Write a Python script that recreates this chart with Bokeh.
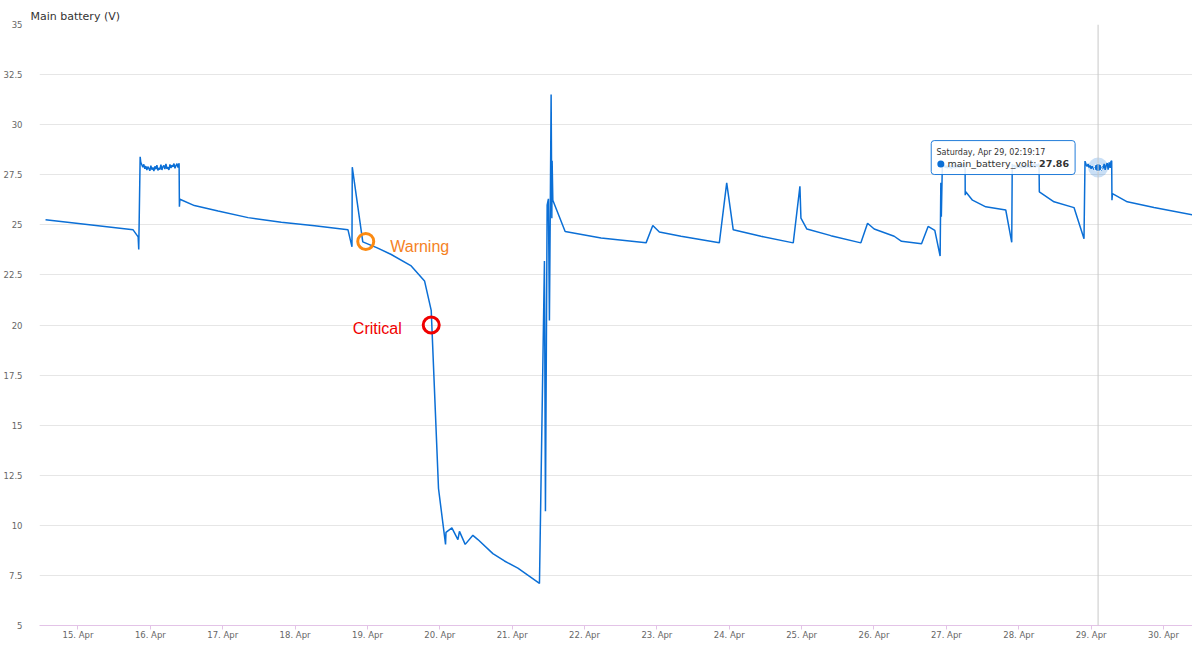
import pandas as pd
from bokeh.plotting import figure
from bokeh.models import (Range1d, FixedTicker, DaysTicker, DatetimeTickFormatter,
                          Label, Span, BoxAnnotation)
from bokeh.embed import file_html
from bokeh.resources import INLINE

# ---------------- data ----------------
series_name = "main_battery_volt"
chart_title = "Main battery (V)"

times = [
    # slow discharge, then first charge
    "2023-04-14 13:14", "2023-04-15 18:17", "2023-04-15 19:57", "2023-04-15 20:09",
    # charging plateau 1
    "2023-04-15 20:37", "2023-04-15 20:50", "2023-04-15 21:10", "2023-04-15 21:30",
    "2023-04-15 21:50", "2023-04-15 22:10", "2023-04-15 22:30", "2023-04-15 22:50",
    "2023-04-15 23:10", "2023-04-15 23:30", "2023-04-15 23:50", "2023-04-16 00:10",
    "2023-04-16 00:30", "2023-04-16 00:50", "2023-04-16 01:10", "2023-04-16 01:30",
    "2023-04-16 01:50", "2023-04-16 02:10", "2023-04-16 02:30", "2023-04-16 02:50",
    "2023-04-16 03:10", "2023-04-16 03:30", "2023-04-16 03:50", "2023-04-16 04:10",
    "2023-04-16 04:30", "2023-04-16 04:50", "2023-04-16 05:10", "2023-04-16 05:30",
    "2023-04-16 05:50", "2023-04-16 06:10", "2023-04-16 06:30", "2023-04-16 06:50",
    "2023-04-16 07:10", "2023-04-16 07:30", "2023-04-16 07:50", "2023-04-16 08:10",
    "2023-04-16 08:30", "2023-04-16 08:50", "2023-04-16 09:10", "2023-04-16 09:32",
    # discharge
    "2023-04-16 09:38", "2023-04-16 09:48", "2023-04-16 14:36", "2023-04-16 22:28",
    "2023-04-17 08:24", "2023-04-17 19:26", "2023-04-18 06:29", "2023-04-18 17:33",
    "2023-04-18 18:52", "2023-04-18 18:58", "2023-04-18 22:27", "2023-04-19 03:15",
    "2023-04-19 07:54", "2023-04-19 14:31", "2023-04-19 18:56", "2023-04-19 21:09",
    "2023-04-19 23:34", "2023-04-20 01:54", "2023-04-20 02:03", "2023-04-20 04:00",
    "2023-04-20 06:00", "2023-04-20 06:31", "2023-04-20 08:25", "2023-04-20 10:58",
    "2023-04-20 12:38", "2023-04-20 17:36", "2023-04-20 21:26", "2023-04-21 01:53",
    "2023-04-21 09:03",
    # recovery spikes
    "2023-04-21 10:42", "2023-04-21 11:02", "2023-04-21 11:36", "2023-04-21 12:01",
    "2023-04-21 12:21", "2023-04-21 12:39", "2023-04-21 12:55", "2023-04-21 13:09",
    "2023-04-21 13:15", "2023-04-21 13:29",
    # daily cycles
    "2023-04-21 17:34", "2023-04-22 05:29", "2023-04-22 20:24", "2023-04-22 22:38",
    "2023-04-23 00:49", "2023-04-23 08:00", "2023-04-23 20:42", "2023-04-23 23:09",
    "2023-04-24 01:19", "2023-04-24 10:30", "2023-04-24 21:13", "2023-04-24 23:26",
    "2023-04-24 23:46", "2023-04-25 01:45", "2023-04-25 09:42", "2023-04-25 19:39",
    "2023-04-25 21:52", "2023-04-26 00:04", "2023-04-26 06:42", "2023-04-26 09:08",
    "2023-04-26 15:46", "2023-04-26 17:57", "2023-04-26 20:10", "2023-04-26 21:56",
    "2023-04-26 22:10", "2023-04-26 22:20",
    # charging plateau 2
    "2023-04-26 22:40", "2023-04-26 23:00", "2023-04-26 23:20", "2023-04-26 23:40",
    "2023-04-27 00:00", "2023-04-27 00:20", "2023-04-27 00:40", "2023-04-27 01:00",
    "2023-04-27 01:20", "2023-04-27 01:40", "2023-04-27 02:00", "2023-04-27 02:20",
    "2023-04-27 02:40", "2023-04-27 03:00", "2023-04-27 03:20", "2023-04-27 03:40",
    "2023-04-27 04:00", "2023-04-27 04:20", "2023-04-27 04:40", "2023-04-27 05:00",
    "2023-04-27 05:20", "2023-04-27 05:40", "2023-04-27 06:00", "2023-04-27 06:13",
    # discharge
    "2023-04-27 06:15", "2023-04-27 06:25", "2023-04-27 08:40", "2023-04-27 13:04",
    "2023-04-27 19:42", "2023-04-27 21:41",
    # charging plateau 3
    "2023-04-27 21:51", "2023-04-27 22:10", "2023-04-27 22:30", "2023-04-27 22:50",
    "2023-04-27 23:10", "2023-04-27 23:30", "2023-04-27 23:50", "2023-04-28 00:10",
    "2023-04-28 00:30", "2023-04-28 00:50", "2023-04-28 01:10", "2023-04-28 01:30",
    "2023-04-28 01:50", "2023-04-28 02:10", "2023-04-28 02:30", "2023-04-28 02:50",
    "2023-04-28 03:10", "2023-04-28 03:30", "2023-04-28 03:50", "2023-04-28 04:10",
    "2023-04-28 04:30", "2023-04-28 04:50", "2023-04-28 05:10", "2023-04-28 05:30",
    "2023-04-28 05:50", "2023-04-28 06:10", "2023-04-28 06:30", "2023-04-28 06:44",
    # discharge
    "2023-04-28 06:50", "2023-04-28 11:42", "2023-04-28 18:20", "2023-04-28 21:39",
    # charging plateau 4
    "2023-04-28 21:59", "2023-04-28 22:20", "2023-04-28 22:40", "2023-04-28 23:00",
    "2023-04-28 23:20", "2023-04-28 23:40", "2023-04-29 00:00", "2023-04-29 00:20",
    "2023-04-29 00:40", "2023-04-29 01:00", "2023-04-29 01:20", "2023-04-29 01:40",
    "2023-04-29 02:00", "2023-04-29 02:19:17", "2023-04-29 02:40", "2023-04-29 03:00",
    "2023-04-29 03:20", "2023-04-29 03:40", "2023-04-29 04:00", "2023-04-29 04:20",
    "2023-04-29 04:40", "2023-04-29 05:00", "2023-04-29 05:20", "2023-04-29 05:40",
    "2023-04-29 06:00", "2023-04-29 06:20", "2023-04-29 06:35", "2023-04-29 06:50",
    # final discharge
    "2023-04-29 06:55", "2023-04-29 07:05", "2023-04-29 12:00", "2023-04-29 20:52",
    "2023-04-30 09:30",
]

volts = [
    25.25, 24.75, 24.40, 23.77,
    28.40, 28.12, 28.00, 27.88,
    28.02, 27.80, 27.93, 27.74,
    27.90, 27.82, 27.70, 27.95,
    27.76, 27.86, 27.68, 27.92,
    27.78, 27.98, 27.72, 27.84,
    27.76, 28.00, 27.74, 27.90,
    27.96, 27.78, 28.04, 27.80,
    27.88, 27.74, 28.02, 27.84,
    27.98, 27.90, 28.06, 27.82,
    27.96, 28.05, 27.86, 28.08,
    25.90, 26.28, 25.96, 25.69,
    25.36, 25.13, 24.95, 24.75,
    23.90, 27.88, 24.15, 23.85,
    23.52, 22.95, 22.20, 20.73,
    11.84, 9.05, 9.65, 9.87,
    9.29, 9.70, 9.05, 9.50,
    9.29, 8.59, 8.22, 7.86,
    7.10,
    23.20, 10.70, 25.98, 26.30,
    20.23, 26.00, 31.50, 25.33,
    28.20, 26.23,
    24.67, 24.34, 24.10, 24.97,
    24.64, 24.43, 24.10, 27.09,
    24.75, 24.43, 24.10, 26.92,
    25.33, 24.79, 24.46, 24.10,
    25.08, 24.79, 24.43, 24.18,
    24.06, 24.92, 24.72, 23.44,
    27.10, 25.41,
    28.00, 27.90, 27.98, 27.85,
    27.95, 27.82, 27.96, 27.84,
    27.98, 27.80, 27.95, 27.85,
    28.00, 27.82, 27.96, 27.86,
    28.00, 27.84, 27.98, 27.88,
    28.02, 27.86, 28.05, 28.00,
    26.48, 26.65, 26.23, 25.90,
    25.74, 24.13,
    28.04, 27.92, 27.98, 27.86,
    27.96, 27.84, 27.98, 27.85,
    27.95, 27.82, 27.97, 27.86,
    28.00, 27.84, 27.96, 27.88,
    28.02, 27.85, 27.98, 27.86,
    28.02, 27.88, 28.04, 27.86,
    28.02, 27.90, 28.05, 28.00,
    26.65, 26.15, 25.86, 24.31,
    28.18, 28.02, 27.92, 28.04,
    27.86, 27.96, 27.80, 27.92,
    27.84, 27.76, 27.94, 27.80,
    27.72, 27.86, 27.78, 27.98,
    27.70, 27.92, 27.82, 28.04,
    27.74, 27.96, 28.08, 27.76,
    28.12, 27.84, 28.16, 28.20,
    26.23, 26.56, 26.15, 25.86,
    25.50,
]
assert len(times) == len(volts)

y_ticks = [5, 7.5, 10, 12.5, 15, 17.5, 20, 22.5, 25, 27.5, 30, 32.5, 35]
y_tick_labels = ["5", "7.5", "10", "12.5", "15", "17.5", "20", "22.5", "25",
                 "27.5", "30", "32.5", "35"]

warning_time, warning_volt, warning_text = "2023-04-18 23:26", 24.17, "Warning"
critical_time, critical_volt, critical_text = "2023-04-19 21:09", 20.0, "Critical"

hover_time, hover_volt = "2023-04-29 02:19:17", 27.86

# ---------------- styling / layout ----------------
BLUE = "#0b6fd6"
ORANGE_RING = "#fb8a12"
ORANGE_TEXT = "#f5821f"
RED = "#f00000"
FONT = "DejaVu Sans"

W, H = 1192, 642
BL, BR, BT, BB = 38, 0, 24, 16
FRAME_W = W - BL - BR
FRAME_H = H - BT - BB

x0 = pd.Timestamp("2023-04-14 11:14")
x1 = pd.Timestamp("2023-04-30 09:38")
Y0, Y1 = 5, 35


def ms(ts):
    return pd.Timestamp(ts).value / 1e6


MS_PER_PX = (ms(x1) - ms(x0)) / FRAME_W
V_PER_PX = (Y1 - Y0) / FRAME_H


def shift(t_ms, v, dx_px, dy_px):
    """move a data point by screen pixels (dy positive = down)"""
    return t_ms + dx_px * MS_PER_PX, v - dy_px * V_PER_PX


p = figure(width=W, height=H, x_axis_type="datetime",
           x_range=Range1d(ms(x0), ms(x1)), y_range=Range1d(Y0, Y1),
           output_backend="svg", toolbar_location=None,
           min_border_left=BL, min_border_right=BR,
           min_border_top=BT, min_border_bottom=BB)
p.outline_line_color = None
p.background_fill_color = "white"
p.border_fill_color = "white"

# title
p.title.text = chart_title
p.title.align = "left"
p.title.offset = -9
p.title.standoff = 3
p.title.text_font = FONT
p.title.text_font_size = "11px"
p.title.text_font_style = "normal"
p.title.text_color = "#333333"

# axes
p.xaxis.ticker = DaysTicker(days=list(range(1, 32)))
p.xaxis.formatter = DatetimeTickFormatter(days="%d. %b", months="%d. %b",
                                          hours="%d. %b")
p.xaxis.axis_line_color = "#e3c3e7"
p.xaxis.major_tick_line_color = "#e3c3e7"
p.xaxis.major_tick_out = 4
p.xaxis.major_tick_in = 0
p.xaxis.minor_tick_line_color = None
p.xaxis.major_label_text_font = FONT
p.xaxis.major_label_text_font_size = "8.5px"
p.xaxis.major_label_text_color = "#666666"
p.xaxis.major_label_standoff = 0

p.yaxis.ticker = FixedTicker(ticks=y_ticks)
p.yaxis.major_label_overrides = {t: l for t, l in zip(y_ticks, y_tick_labels)}
p.yaxis.axis_line_color = None
p.yaxis.major_tick_line_color = None
p.yaxis.minor_tick_line_color = None
p.yaxis.major_label_text_font = FONT
p.yaxis.major_label_text_font_size = "8.5px"
p.yaxis.major_label_text_color = "#666666"
p.yaxis.major_label_standoff = 11

p.xgrid.grid_line_color = None
p.ygrid.grid_line_color = "#e6e6e6"
p.ygrid.grid_line_width = 1

# crosshair
hx = ms(hover_time)
p.add_layout(Span(location=hx, dimension="height", line_color="#c8c8c8",
                  line_width=1))

# series
p.line(pd.to_datetime(times, format="ISO8601"), volts, line_color=BLUE,
       line_width=1.5)

# hover marker
p.scatter([hx], [hover_volt], size=20, fill_color=BLUE, fill_alpha=0.22,
          line_color=None)
p.scatter([hx], [hover_volt], size=8, fill_color=BLUE, line_color="white",
          line_width=1)

# threshold markers
wx, cx = ms(warning_time), ms(critical_time)
p.scatter([wx], [warning_volt], size=16, fill_color=None,
          line_color=ORANGE_RING, line_width=3)
p.scatter([cx], [critical_volt], size=16, fill_color=None,
          line_color=RED, line_width=3)
tx, ty = shift(wx, warning_volt, 24.5, 5)
p.add_layout(Label(x=tx, y=ty, text=warning_text, text_font="Liberation Sans",
                   text_font_size="16px", text_color=ORANGE_TEXT,
                   text_baseline="alphabetic", text_align="left"))
tx, ty = shift(cx, critical_volt, -29.5, 3.5)
p.add_layout(Label(x=tx, y=ty, text=critical_text, text_font="Liberation Sans",
                   text_font_size="16px", text_color=RED,
                   text_baseline="alphabetic", text_align="right"))

# tooltip
bl, bt = shift(hx, hover_volt, -167, -27)
br, bb = shift(hx, hover_volt, -23, 7)
p.add_layout(BoxAnnotation(left=bl, right=br, top=bt, bottom=bb,
                           fill_color="white", fill_alpha=0.86,
                           line_color=BLUE, line_width=1, line_alpha=0.9,
                           border_radius=3))
date_str = pd.Timestamp(hover_time).strftime("%A, %b %d, %H:%M:%S")
tx, ty = shift(hx, hover_volt, -161.7, -14.7)
p.add_layout(Label(x=tx, y=ty, text=date_str, text_font=FONT,
                   text_font_size="8px", text_color="#333333",
                   text_baseline="middle", text_align="left"))
dx_, dy_ = shift(hx, hover_volt, -157.4, -3.5)
p.scatter([dx_], [dy_], size=7, fill_color=BLUE, line_color=None,
          level="overlay")
tx, ty = shift(hx, hover_volt, -150.7, -3.7)
p.add_layout(Label(x=tx, y=ty, text=series_name + ":", text_font=FONT,
                   text_font_size="9.5px", text_color="#333333",
                   text_baseline="middle", text_align="left"))
tx, ty = shift(hx, hover_volt, -59.1, -3.7)
p.add_layout(Label(x=tx, y=ty, text=f"{hover_volt:.2f}", text_font=FONT,
                   text_font_size="9.5px", text_color="#333333",
                   text_font_style="bold",
                   text_baseline="middle", text_align="left"))

open("out.html", "w").write(file_html(p, INLINE))
